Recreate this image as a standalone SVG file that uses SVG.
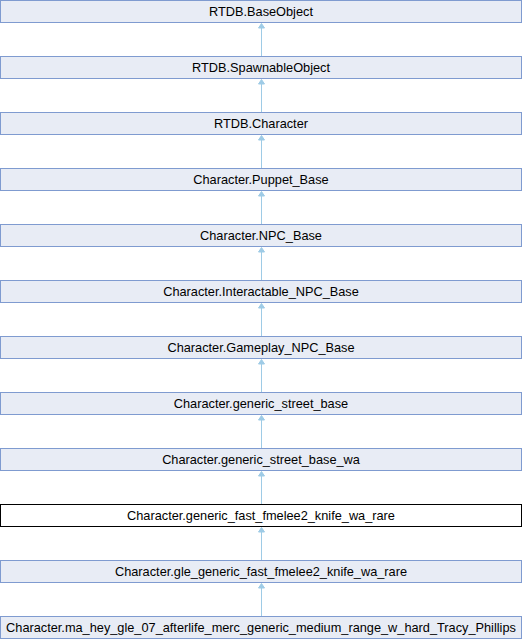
<svg xmlns="http://www.w3.org/2000/svg" width="522" height="640" viewBox="0 0 522 640">
  <style>
    .node rect { fill: #e8ecf5; stroke: #7f9bd0; stroke-width: 1; }
    .node.current rect { fill: #ffffff; stroke: #000000; }
    .node text { font-family: "Liberation Sans", Arial, sans-serif; font-size: 12.75px; fill: #000000; text-anchor: middle; }
    .edge line { stroke: #9ecbe6; stroke-width: 1; }
    .edge polygon { fill: #9ecbe6; stroke: #9ecbe6; stroke-width: 1; }
  </style>
  <rect x="0" y="0" width="522" height="640" fill="#ffffff"/>

  <g id="connectors" class="edge">
    <line x1="261.5" y1="28" x2="261.5" y2="56"/><polygon points="261.5,23.5 258.5,28 264.5,28"/>
    <line x1="261.5" y1="84" x2="261.5" y2="112"/><polygon points="261.5,79.5 258.5,84 264.5,84"/>
    <line x1="261.5" y1="140" x2="261.5" y2="168"/><polygon points="261.5,135.5 258.5,140 264.5,140"/>
    <line x1="261.5" y1="196" x2="261.5" y2="224"/><polygon points="261.5,191.5 258.5,196 264.5,196"/>
    <line x1="261.5" y1="252" x2="261.5" y2="280"/><polygon points="261.5,247.5 258.5,252 264.5,252"/>
    <line x1="261.5" y1="308" x2="261.5" y2="336"/><polygon points="261.5,303.5 258.5,308 264.5,308"/>
    <line x1="261.5" y1="364" x2="261.5" y2="392"/><polygon points="261.5,359.5 258.5,364 264.5,364"/>
    <line x1="261.5" y1="420" x2="261.5" y2="448"/><polygon points="261.5,415.5 258.5,420 264.5,420"/>
    <line x1="261.5" y1="476" x2="261.5" y2="504"/><polygon points="261.5,471.5 258.5,476 264.5,476"/>
    <line x1="261.5" y1="532" x2="261.5" y2="560"/><polygon points="261.5,527.5 258.5,532 264.5,532"/>
    <line x1="261.5" y1="588" x2="261.5" y2="616"/><polygon points="261.5,583.5 258.5,588 264.5,588"/>
  </g>

  <g id="node-baseobject" class="node"><rect x="0.5" y="0.5" width="521" height="22"/><text x="261" y="16">RTDB.BaseObject</text></g>
  <g id="node-spawnableobject" class="node"><rect x="0.5" y="56.5" width="521" height="22"/><text x="261" y="72">RTDB.SpawnableObject</text></g>
  <g id="node-character" class="node"><rect x="0.5" y="112.5" width="521" height="22"/><text x="261" y="128">RTDB.Character</text></g>
  <g id="node-puppet-base" class="node"><rect x="0.5" y="168.5" width="521" height="22"/><text x="261" y="184">Character.Puppet_Base</text></g>
  <g id="node-npc-base" class="node"><rect x="0.5" y="224.5" width="521" height="22"/><text x="261" y="240">Character.NPC_Base</text></g>
  <g id="node-interactable-npc-base" class="node"><rect x="0.5" y="280.5" width="521" height="22"/><text x="261" y="296">Character.Interactable_NPC_Base</text></g>
  <g id="node-gameplay-npc-base" class="node"><rect x="0.5" y="336.5" width="521" height="22"/><text x="261" y="352">Character.Gameplay_NPC_Base</text></g>
  <g id="node-generic-street-base" class="node"><rect x="0.5" y="392.5" width="521" height="22"/><text x="261" y="408">Character.generic_street_base</text></g>
  <g id="node-generic-street-base-wa" class="node"><rect x="0.5" y="448.5" width="521" height="22"/><text x="261" y="464">Character.generic_street_base_wa</text></g>
  <g id="node-generic-fast-fmelee2-knife-wa-rare" class="node current"><rect x="0.5" y="504.5" width="521" height="22"/><text x="261" y="520">Character.generic_fast_fmelee2_knife_wa_rare</text></g>
  <g id="node-gle-generic-fast-fmelee2-knife-wa-rare" class="node"><rect x="0.5" y="560.5" width="521" height="22"/><text x="261" y="576">Character.gle_generic_fast_fmelee2_knife_wa_rare</text></g>
  <g id="node-tracy-phillips" class="node"><rect x="0.5" y="616.5" width="521" height="22"/><text x="261" y="632">Character.ma_hey_gle_07_afterlife_merc_generic_medium_range_w_hard_Tracy_Phillips</text></g>
</svg>
